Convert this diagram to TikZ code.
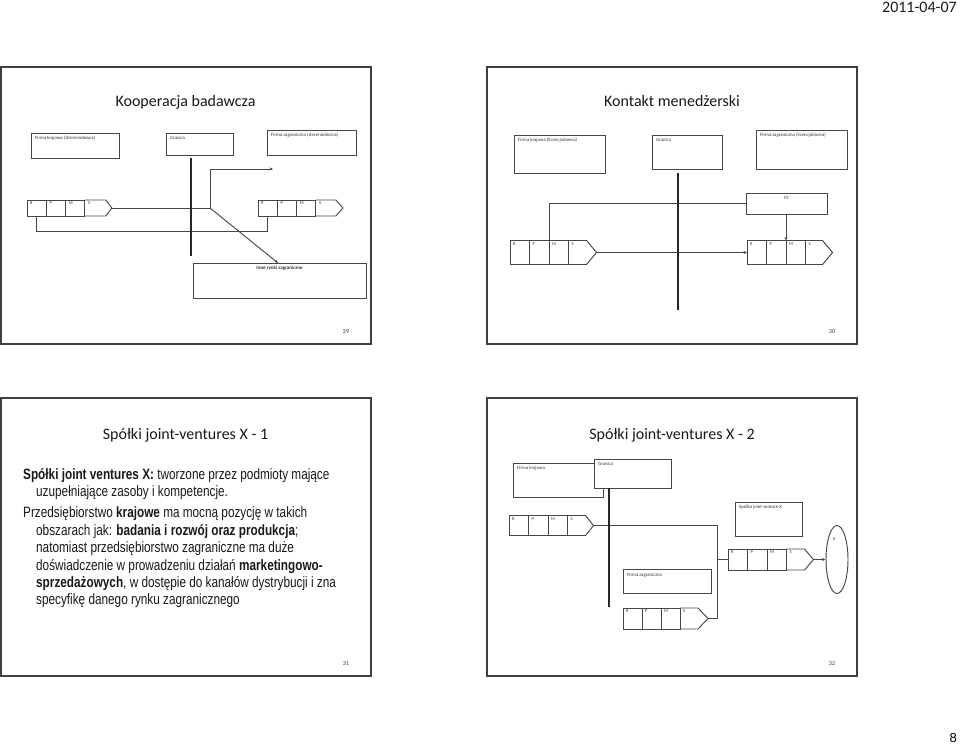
\documentclass[tikz,border=0pt]{standalone}
\usepackage{fontspec}
\setmainfont{Carlito}
\newfontfamily\bodyfont[FakeStretch=0.785]{Liberation Sans}
\newfontfamily\arialfont{Liberation Sans}
\usetikzlibrary{arrows.meta,shapes.geometric}
\tikzset{
 frame/.style={draw=black!75,line width=1.4pt},
 ln/.style={draw=black!72,line width=0.95pt},
 bord/.style={draw=black!85,line width=1.1pt},
 box/.style={draw=black!72,line width=0.95pt,fill=white,anchor=north west,inner sep=0pt,outer sep=0pt},
 cellbox/.style={draw=black!72,line width=0.95pt,anchor=north west,inner sep=0pt,outer sep=0pt},
 lab/.style={font=\fontsize{4.8}{5.5}\selectfont,inner sep=0pt,anchor=north west,text=black!80},
 clab/.style={font=\fontsize{4.5}{5}\selectfont,inner sep=0pt,anchor=north west,text=black!80},
 ttl/.style={font=\fontsize{16}{19}\selectfont,anchor=base,text=black!90,inner sep=0pt},
 pg/.style={font=\fontsize{6}{7}\selectfont,text=black!80,inner sep=0pt},
 body/.style={font=\bodyfont\fontsize{15}{18}\selectfont,anchor=base west,inner sep=0pt,text=black!90},
 arr/.style={ln,-{Stealth[length=3.5pt,width=3pt]}},
 pics/rpms/.style n args={4}{code={
  \node[cellbox,minimum width=#1,minimum height=#2] (-R) at (0,0) {};
  \node[cellbox,minimum width=#1,minimum height=#2] (-P) at (#1,0) {};
  \node[cellbox,minimum width=#1,minimum height=#2] (-M) at (2*#1,0) {};
  \coordinate (-tip) at (3*#1+#3+#4,#2/2);
  \draw[ln] (3*#1,0) -- (3*#1+#3,0) -- (3*#1+#3+#4,#2/2) -- (3*#1+#3,#2) -- (3*#1,#2);
  \node[clab] (-rl) at (3,1.5) {R};
  \node[clab] (-pl) at (#1+3,1.5) {P};
  \node[clab] (-ml) at (2*#1+3,1.5) {M};
  \node[clab] (-sl) at (3*#1+3,1.5) {S};
 }}
}
\begin{document}
\begin{tikzpicture}[x=1pt,y=-1pt]
\useasboundingbox (0,0) rectangle (960,746);

% header / footer
\node[font=\fontsize{16}{19}\selectfont,anchor=base east,inner sep=0pt,text=black!90] (hdr) at (957,13) {2011-04-07};
\node[font=\arialfont\fontsize{13}{15}\selectfont,anchor=base east,inner sep=0pt] (ftr) at (957,742) {8};

% ---------------- slide 29
\draw[frame] (1,67) rectangle (371,344);
\node[ttl] (t29) at (185.5,107) {Kooperacja badawcza};
\node[box,minimum width=88,minimum height=25] (fk29) at (31,133) {};
\node[lab] (fk29l) at ([shift={(4,3)}]fk29.north west) {Firma krajowa (zleceniodawca)};
\node[box,minimum width=67,minimum height=22] (gr29) at (166,133) {};
\node[lab] (gr29l) at ([shift={(4,3)}]gr29.north west) {Granica};
\node[box,minimum width=89,minimum height=25] (fz29) at (267,130) {};
\node[lab] (fz29l) at ([shift={(4,3)}]fz29.north west) {Firma zagraniczna (zleceniobiorca)};
\pic (L29) at (27,200) {rpms={19.3}{16}{21}{6}};
\pic (R29) at (258,200) {rpms={19.3}{16}{20}{7}};
\node[box,minimum width=173,minimum height=35] (in29) at (193,263) {};
\node[lab,font=\bfseries\fontsize{5}{6}\selectfont,anchor=north] (in29l) at ([shift={(0,3)}]in29.north) {Inne rynki zagraniczne};
\coordinate (j29) at (210,208);
\coordinate (a29) at (273,169);
\draw[ln] (L29-tip) -- (j29);
\draw[arr] (j29) |- (a29);
\draw[arr] (j29) -- ([shift={(-1.5,0)}]in29.north);
\draw[ln] (L29-R.south) -- ++(0,15) -| (R29-R.south);
\coordinate (g29a) at (191,158);
\coordinate (g29b) at (191,256);
\draw[bord] (g29a) -- (g29b);
\node[pg] (p29) at (346,332) {29};

% ---------------- slide 30
\draw[frame] (487,67) rectangle (857,344);
\node[ttl] (t30) at (672,107) {Kontakt menedżerski};
\node[box,minimum width=91,minimum height=38] (fk30) at (514,135) {};
\node[lab] (fk30l) at ([shift={(4,3)}]fk30.north west) {Firma krajowa (licencjodawca)};
\node[box,minimum width=70,minimum height=34] (gr30) at (652,135) {};
\node[lab] (gr30l) at ([shift={(4,3)}]gr30.north west) {Granica};
\node[box,minimum width=91,minimum height=39] (fz30) at (756,130) {};
\node[lab] (fz30l) at ([shift={(4,3)}]fz30.north west) {Firma zagraniczna (licencjobiorca)};
\node[box,minimum width=81,minimum height=21] (fzb) at (746,193) {};
\node[lab,anchor=north] (fzbl) at ([shift={(0,3)}]fzb.north) {FZ};
\pic (L30) at (510,240.5) {rpms={19.5}{24}{18}{10}};
\pic (R30) at (747,240.5) {rpms={19.5}{24}{17}{10}};
\draw[ln] (fzb.west) -| (L30-M.north west);
\draw[arr] (R30-M.north west |- fzb.south) -- (R30-M.north west);
\draw[arr] (L30-tip) -- (R30-R.west);
\coordinate (g30a) at (678,173);
\coordinate (g30b) at (678,310);
\draw[bord] (g30a) -- (g30b);
\node[pg] (p30) at (832,332) {30};

% ---------------- slide 31
\draw[frame] (1,398) rectangle (371,676);
\node[ttl] (t31) at (185.5,439) {Spółki joint-ventures X - 1};
\node[body] (b1) at (23,479) {\textbf{Spółki joint ventures X:} tworzone przez podmioty mające};
\node[body] (b2) at (36,496) {uzupełniające zasoby i kompetencje.};
\node[body] (b3) at (23,517) {Przedsiębiorstwo \textbf{krajowe} ma mocną pozycję w takich};
\node[body] (b4) at (36,535) {obszarach jak: \textbf{badania i rozwój oraz produkcja};};
\node[body] (b5) at (36,552) {natomiast przedsiębiorstwo zagraniczne ma duże};
\node[body] (b6) at (36,570) {doświadczenie w prowadzeniu działań \textbf{marketingowo-}};
\node[body] (b7) at (36,587) {\textbf{sprzedażowych}, w dostępie do kanałów dystrybucji i zna};
\node[body] (b8) at (36,604) {specyfikę danego rynku zagranicznego};
\node[pg] (p31) at (346,664) {31};

% ---------------- slide 32
\draw[frame] (487,398) rectangle (857,676);
\node[ttl] (t32) at (672,439) {Spółki joint-ventures X - 2};
\node[box,minimum width=90,minimum height=34] (fk32) at (513,463) {};
\node[lab] (fk32l) at ([shift={(4,3)}]fk32.north west) {Firma krajowa};
\node[box,minimum width=77,minimum height=29] (gr32) at (594,459) {};
\node[lab] (gr32l) at ([shift={(4,3)}]gr32.north west) {Granica};
\pic (L32) at (509,515.5) {rpms={19.5}{20}{18}{8}};
\node[box,minimum width=88,minimum height=24] (fz32) at (623,569) {};
\node[lab] (fz32l) at ([shift={(4,4)}]fz32.north west) {Firma zagraniczna};
\pic (B32) at (623,608) {rpms={19}{21}{18}{10}};
\node[box,minimum width=67,minimum height=34] (sj32) at (735,502) {};
\node[lab] (sj32l) at ([shift={(4,3)}]sj32.north west) {Spółka joint venture X};
\pic (R32) at (728,549) {rpms={19.5}{21}{18}{9}};
\node[ellipse,draw=black!72,line width=0.95pt,minimum width=22,minimum height=68,inner sep=0pt] (ex) at (837,559.5) {};
\node[clab,anchor=center] (exl) at (834,539) {X};
\coordinate (bus) at (717.5,560);
\draw[ln] (L32-tip) -- (L32-tip -| bus) -- (B32-tip -| bus) -- (B32-tip);
\draw[ln] (bus |- R32-R.west) -- (R32-R.west);
\draw[arr] (R32-tip) -- (ex.west);
\coordinate (g32a) at (609,488);
\coordinate (g32b) at (609,607);
\draw[bord] (g32a) -- (g32b);
\node[pg] (p32) at (832,664) {32};
\end{tikzpicture}
\end{document}
